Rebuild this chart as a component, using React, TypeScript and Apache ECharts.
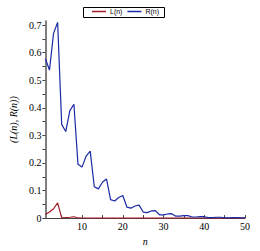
import React, { useEffect, useRef } from "react";
import * as echarts from "echarts";

const nValues = Array.from({ length: 50 }, (_, i) => i + 1);
const rValues = [
  0.578, 0.537, 0.67, 0.71, 0.34, 0.314, 0.39, 0.413, 0.195, 0.185,
  0.225, 0.243, 0.114, 0.106, 0.13, 0.142, 0.067, 0.062, 0.075, 0.082,
  0.04, 0.036, 0.044, 0.047, 0.022, 0.02, 0.026, 0.027, 0.012, 0.012,
  0.015, 0.016, 0.007, 0.007, 0.009, 0.009, 0.004, 0.004, 0.005, 0.005,
  0.002, 0.002, 0.003, 0.003, 0.001, 0.001, 0.0015, 0.0015, 0.0006, 0.0006,
];
const lValues = [
  0.013, 0.022, 0.034, 0.055, 0.001, 0.002, 0.003, 0.005, 0.0005, 0.0004,
  0.0003, 0.0003, 0.0002, 0.0002, 0.0002, 0.0002, 0.0001, 0.0001, 0.0001, 0.0001,
  0, 0, 0, 0, 0, 0, 0, 0, 0, 0,
  0, 0, 0, 0, 0, 0, 0, 0, 0, 0,
  0, 0, 0, 0, 0, 0, 0, 0, 0, 0,
];
const xTickValues = [5, 10, 15, 20, 25, 30, 35, 40, 45, 50];
const xLabelValues = [10, 20, 30, 40, 50];
const yTickValues = [0, 0.05, 0.1, 0.15, 0.2, 0.25, 0.3, 0.35, 0.4, 0.45, 0.5, 0.55, 0.6, 0.65, 0.7];
const yLabelValues = [0, 0.1, 0.2, 0.3, 0.4, 0.5, 0.6, 0.7];

const RED = "#a01c28";
const BLUE = "#1b2aa6";

export default function App() {
  const ref = useRef<HTMLDivElement>(null);
  useEffect(() => {
    if (!ref.current) return;
    const chart = echarts.init(ref.current, null, { renderer: "svg" });
    const serif = "'Liberation Serif', 'DejaVu Serif', serif";
    chart.setOption({
      animation: false,
      backgroundColor: "#fff",
      grid: { left: 35, right: 15, top: 21, bottom: 28, containLabel: false },
      graphic: [
        {
          type: "rect",
          shape: { x: 83.5, y: 7.5, width: 81, height: 10 },
          style: { fill: "#fff", stroke: "#000", lineWidth: 1 },
          z: 0,
          silent: true,
        },
      ],
      legend: {
        top: 8,
        left: 92,
        data: [
          { name: "L(n)", itemStyle: { color: RED } },
          { name: "R(n)", itemStyle: { color: BLUE } },
        ],
        icon: "rect",
        itemWidth: 14,
        itemHeight: 1.5,
        itemGap: 5,
        padding: 0,
        z: 10,
        textStyle: { fontSize: 7, fontFamily: "'Liberation Sans', Arial, sans-serif", color: "#000", padding: [0, 0, 0, -1] },
      },
      xAxis: {
        type: "value",
        min: 1,
        max: 50,
        name: "n",
        nameLocation: "middle",
        nameGap: 13,
        nameTextStyle: { fontFamily: serif, fontStyle: "italic", fontSize: 10, color: "#000" },
        axisLine: { lineStyle: { color: "#444", width: 1.2 } },
        axisTick: { customValues: xTickValues, length: 3, inside: true, lineStyle: { color: "#444" } },
        axisLabel: { customValues: xLabelValues, margin: 3, fontFamily: serif, fontSize: 10, color: "#000" },
        splitLine: { show: false },
      },
      yAxis: {
        type: "value",
        min: 0,
        max: 0.715,
        name: "(L(n), R(n))",
        nameLocation: "middle",
        nameGap: 16,
        nameRotate: 90,
        nameTextStyle: { fontFamily: serif, fontStyle: "italic", fontSize: 10, color: "#000" },
        axisLine: { show: true, lineStyle: { color: "#555", width: 1.5 } },
        axisTick: { show: true, customValues: yTickValues, length: 3, lineStyle: { color: "#444" } },
        axisLabel: {
          customValues: yLabelValues,
          margin: 4,
          fontFamily: serif,
          fontSize: 10,
          color: "#000",
          formatter: (v: number) => (v === 0 ? "0" : v.toFixed(1)),
        },
        splitLine: { show: false },
      },
      series: [
        {
          name: "L(n)",
          type: "line",
          data: nValues.map((n, i) => [n, lValues[i]]),
          showSymbol: false,
          symbol: "none",
          lineStyle: { color: RED, width: 1.2 },
          itemStyle: { color: RED },
        },
        {
          name: "R(n)",
          type: "line",
          data: nValues.map((n, i) => [n, rValues[i]]),
          showSymbol: false,
          symbol: "none",
          lineStyle: { color: BLUE, width: 1.2 },
          itemStyle: { color: BLUE },
        },
      ],
    });
    return () => chart.dispose();
  }, []);
  return <div ref={ref} style={{ position: "absolute", left: 0, top: 0, width: 260, height: 251 }} />;
}
